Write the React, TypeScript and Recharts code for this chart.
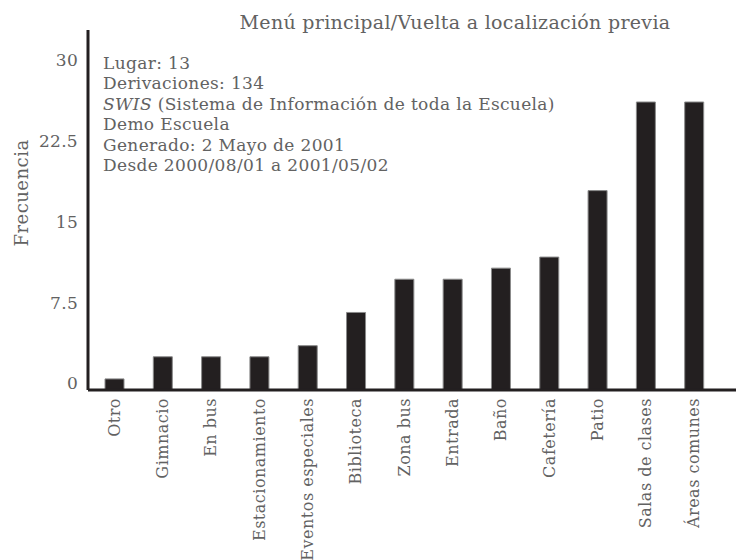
import React from 'react'
import { BarChart, Bar, XAxis, YAxis } from 'recharts'

const categories = [
  'Otro',
  'Gimnacio',
  'En bus',
  'Estacionamiento',
  'Eventos especiales',
  'Biblioteca',
  'Zona bus',
  'Entrada',
  'Baño',
  'Cafetería',
  'Patio',
  'Salas de clases',
  'Áreas comunes',
]
const frequencies = [1, 3, 3, 3, 4, 7, 10, 10, 11, 12, 18, 26, 26]
const yTicks = [0, 7.5, 15, 22.5, 30]

const title = 'Menú principal/Vuelta a localización previa'
const yLabel = 'Frecuencia'
const infoLines = [
  'Lugar: 13',
  'Derivaciones: 134',
  'SWIS (Sistema de Información de toda la Escuela)',
  'Demo Escuela',
  'Generado: 2 Mayo de 2001',
  'Desde 2000/08/01 a 2001/05/02',
]

const data = categories.map((name, i) => ({ name, value: frequencies[i] }))

const FONT = '"DejaVu Serif", serif'
const TEXT = '#626262'
const INK = '#231f20'

const XTick = (props: any) => {
  const { x, y, payload } = props
  return (
    <g transform={`translate(${x},${y})`}>
      <text
        x={0}
        y={0}
        dy="0.35em"
        textAnchor="end"
        transform="rotate(-90)"
        fill={TEXT}
        fontSize={16}
        letterSpacing={0.5}
        fontFamily={FONT}
      >
        {payload.value}
      </text>
    </g>
  )
}

// the original's tick labels sit a little off their ticks, drifting with the value
const YTick = (props: any) => {
  const { x, y, payload } = props
  return (
    <text
      x={x - 2}
      y={y - 6.5 + payload.value * 0.29}
      dy="0.35em"
      textAnchor="end"
      fill={TEXT}
      fontSize={17}
      letterSpacing={0.3}
      fontFamily={FONT}
    >
      {payload.value}
    </text>
  )
}

export default function App() {
  return (
    <div style={{ position: 'absolute', left: 0, top: 0, width: 736, height: 560, background: '#fff' }}>
      <BarChart width={736} height={560} data={data} margin={{ top: 30, right: 0, bottom: 0, left: 0 }}>
        <XAxis
          dataKey="name"
          interval={0}
          height={170}
          padding={{ left: 2, right: 18 }}
          tick={<XTick />}
          tickLine={false}
          axisLine={{ stroke: INK, strokeWidth: 3 }}
        />
        <YAxis
          width={88}
          domain={[0, 32.5]}
          ticks={yTicks}
          tick={<YTick />}
          tickLine={false}
          axisLine={{ stroke: INK, strokeWidth: 3 }}
        />
        <Bar dataKey="value" fill={INK} stroke="#8a8a8a" strokeWidth={1} barSize={19} isAnimationActive={false} />
      </BarChart>
      <svg width={736} height={560} style={{ position: 'absolute', left: 0, top: 0, pointerEvents: 'none' }}>
        <text x={455} y={22} dy="0.35em" textAnchor="middle" fill={TEXT} fontSize={19} letterSpacing={0.3} fontFamily={FONT}>
          {title}
        </text>
        <text
          x={22}
          y={193}
          dy="0.35em"
          textAnchor="middle"
          transform="rotate(-90, 22, 193)"
          fill={TEXT}
          fontSize={18}
          letterSpacing={0.5}
          fontFamily={FONT}
        >
          {yLabel}
        </text>
        {infoLines.map((l, i) => (
          <text key={i} x={103} y={63 + i * 20.5} dy="0.35em" fill={TEXT} fontSize={17} letterSpacing={0.35} fontFamily={FONT}>
            {i === 2 ? (
              <>
                <tspan fontStyle="italic">SWIS</tspan>
                {l.slice(4)}
              </>
            ) : (
              l
            )}
          </text>
        ))}
      </svg>
    </div>
  )
}
